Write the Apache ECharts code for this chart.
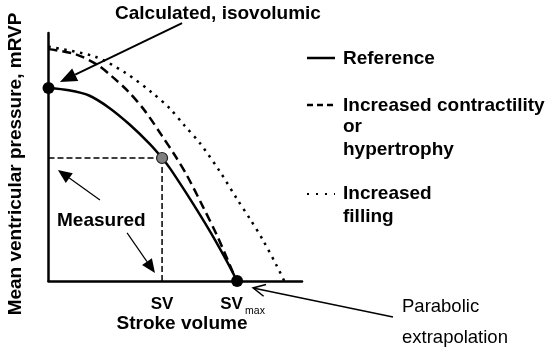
<!DOCTYPE html>
<html>
<head>
<meta charset="utf-8">
<script src="https://cdn.jsdelivr.net/npm/echarts@6/dist/echarts.min.js"></script>
<style>
  html, body { margin: 0; padding: 0; background: #fff; }
  #chart { width: 554px; height: 351px; }
</style>
</head>
<body>
<div id="chart"></div>
<script>
// curves, both axes in 0-100 units (no ticks shown)
const referenceCurve = [[0, 77.8], [8, 76.9], [16, 74.8], [24, 69.8], [32, 63.1], [40, 55.2], [44.8, 49.6], [48, 45.3], [56, 32.8], [64, 19.5], [70, 8.6], [74.4, 0]]
const contractilityCurve = [[0, 93.5], [10.5, 91.5], [19.1, 87.3], [25, 82.5], [31.4, 76.5], [38.1, 68.5], [44.8, 58.5], [49.9, 50.6], [54.6, 42.6], [60.9, 30], [66.5, 18.3], [71.6, 6.3], [74.2, 0]]
const fillingCurve = [[0, 94.5], [18.3, 90.5], [30.2, 84], [40.8, 76], [47.9, 69.5], [53.8, 62.5], [59.8, 55.5], [67.7, 44], [74.4, 33], [79.5, 25], [84.6, 16.5], [90.1, 6], [93, 0]]

const calculatedPoint = [0, 77.8]
const measuredPoint = [44.8, 49.6]
const svMaxPoint = [74.4, 0]

const legendNames = ['Reference', 'Increased contractility', 'or', 'hypertrophy', 'Increased', 'filling']

// annotation arrows, [from, to] in data units
const calcArrow = [[52.7, 104.0], [4.5, 80.2]]
const measuredArrowUp = [[20.3, 32.7], [3.7, 44.8]]
const measuredArrowDown = [[31.0, 19.4], [42.0, 3.2]]
const parabolicArrow = [[135.9, -14.5], [80.7, -2.8]]

const FONT = '"Liberation Sans", Arial, sans-serif'
const chart = echarts.init(document.getElementById('chart'))

const axisCommon = {
  type: 'value',
  min: 0,
  max: 100,
  axisLine: { show: true, onZero: false, lineStyle: { color: '#000', width: 2.5 } },
  axisTick: { show: false },
  axisLabel: { show: false },
  splitLine: { show: false }
}

const curve = (data, lineStyle) => ({
  type: 'line',
  data: data,
  smooth: 0.3,
  showSymbol: false,
  clip: false,
  lineStyle: Object.assign({ color: '#000', width: 2.5 }, lineStyle)
})

chart.setOption({
  animation: false,
  grid: { left: 48.5, top: 33, width: 253.5, height: 248 },
  xAxis: axisCommon,
  yAxis: axisCommon,
  series: [
    curve(fillingCurve, { type: [2.5, 5.5] }),
    curve(contractilityCurve, { type: [9, 5] }),
    curve(referenceCurve, {}),
    {
      type: 'line',
      data: [[0, measuredPoint[1]], measuredPoint],
      showSymbol: false,
      clip: false,
      lineStyle: { color: '#000', width: 1.5, type: [6, 3] }
    }, {
      type: 'line',
      data: [measuredPoint, [measuredPoint[0], 0]],
      showSymbol: false,
      clip: false,
      lineStyle: { color: '#000', width: 1.5, type: [6, 3] }
    }, {
      type: 'scatter',
      data: [calculatedPoint, svMaxPoint],
      symbolSize: 12,
      clip: false,
      z: 5,
      itemStyle: { color: '#000', opacity: 1 }
    }, {
      type: 'scatter',
      data: [measuredPoint],
      symbolSize: 11,
      clip: false,
      z: 5,
      itemStyle: { color: '#7f7f7f', borderColor: '#222', borderWidth: 1.2, opacity: 1 }
    }
  ]
})

const px = p => chart.convertToPixel({ gridIndex: 0 }, p)

function arrow (pair, opt) {
  const p0 = px(pair[0])
  const p1 = px(pair[1])
  const dx = p1[0] - p0[0]
  const dy = p1[1] - p0[1]
  const L = Math.hypot(dx, dy)
  const ux = dx / L
  const uy = dy / L
  const bx = p1[0] - ux * opt.len
  const by = p1[1] - uy * opt.len
  const a = [bx - uy * opt.half, by + ux * opt.half]
  const b = [bx + uy * opt.half, by - ux * opt.half]
  if (opt.open) {
    return [
      { type: 'line', shape: { x1: p0[0], y1: p0[1], x2: p1[0], y2: p1[1] }, style: { stroke: '#000', lineWidth: opt.w } },
      { type: 'polyline', shape: { points: [a, p1, b] }, style: { stroke: '#000', lineWidth: opt.w, fill: null } }
    ]
  }
  return [
    { type: 'line', shape: { x1: p0[0], y1: p0[1], x2: bx, y2: by }, style: { stroke: '#000', lineWidth: opt.w } },
    { type: 'polygon', shape: { points: [p1, a, b] }, style: { fill: '#000' } }
  ]
}

function label (text, x, y, opt) {
  opt = opt || {}
  return {
    type: 'text',
    x: x,
    y: y,
    rotation: opt.rotation || 0,
    style: {
      text: text,
      font: (opt.weight || 'bold') + ' ' + (opt.size || 19) + 'px ' + FONT,
      fill: '#000',
      align: opt.align || 'left',
      verticalAlign: 'middle'
    }
  }
}

const sv = px([measuredPoint[0], 0])
const svMax = px(svMaxPoint)

const graphics = [
  ...arrow(calcArrow, { len: 17, half: 7, w: 2 }),
  ...arrow(measuredArrowUp, { len: 14, half: 6, w: 1.2 }),
  ...arrow(measuredArrowDown, { len: 14, half: 6, w: 1.2 }),
  ...arrow(parabolicArrow, { len: 12, half: 6, w: 1.5, open: true }),

  label('Calculated, isovolumic', 115, 14),
  label('Measured', 57, 221),
  label('Mean ventricular pressure, mRVP', 16, 164, { rotation: Math.PI / 2, align: 'center' }),
  label('SV', sv[0], 304, { size: 17, align: 'center' }),
  label('SV', svMax[0] - 5.5, 304, { size: 17, align: 'center' }),
  label('max', svMax[0] + 8, 311, { size: 10.5, weight: 'normal' }),
  label('Stroke volume', 182, 324, { align: 'center' }),
  label('Parabolic', 402, 307, { size: 18.5, weight: 'normal' }),
  label('extrapolation', 402, 338, { size: 18.5, weight: 'normal' }),

  // legend
  { type: 'line', shape: { x1: 307, y1: 58, x2: 335, y2: 58 }, style: { stroke: '#000', lineWidth: 2.5 } },
  { type: 'line', shape: { x1: 307, y1: 105, x2: 335, y2: 105 }, style: { stroke: '#000', lineWidth: 2.5, lineDash: [6, 4] } },
  { type: 'line', shape: { x1: 307, y1: 194, x2: 335, y2: 194 }, style: { stroke: '#000', lineWidth: 2, lineDash: [2, 7] } },
  label(legendNames[0], 343, 59),
  label(legendNames[1], 343, 106),
  label(legendNames[2], 343, 127),
  label(legendNames[3], 343, 150),
  label(legendNames[4], 343, 194),
  label(legendNames[5], 343, 217)
]

chart.setOption({ graphic: { elements: graphics } })
</script>
</body>
</html>
